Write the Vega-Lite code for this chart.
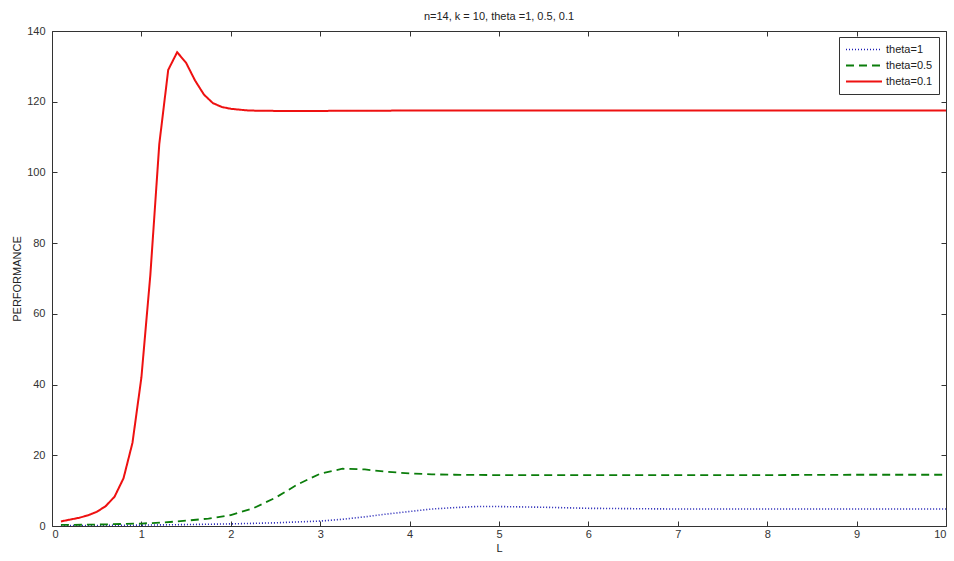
{
  "$schema": "https://vega.github.io/schema/vega-lite/v6.json",
  "autosize": "none",
  "width": 894,
  "height": 495,
  "padding": {"left": 52, "top": 31, "right": 8, "bottom": 35},
  "background": "white",
  "title": {
    "text": "n=14, k = 10, theta =1, 0.5, 0.1",
    "offset": 3,
    "fontSize": 11,
    "fontWeight": "normal",
    "font": "Liberation Sans",
    "color": "#222222"
  },
  "config": {
    "view": {"stroke": null},
    "font": "Liberation Sans",
    "axis": {
      "grid": false,
      "domainColor": "#333333",
      "domainWidth": 1,
      "tickColor": "#333333",
      "tickSize": -5,
      "labelFontSize": 11,
      "labelColor": "#333333",
      "labelFont": "Liberation Sans",
      "titleFontSize": 11,
      "titleFontWeight": "normal",
      "titleColor": "#222222",
      "titleFont": "Liberation Sans"
    },
    "legend": {
      "orient": "none",
      "legendX": 787,
      "legendY": 6,
      "strokeColor": "#333333",
      "fillColor": "white",
      "padding": 6,
      "symbolType": "stroke",
      "symbolSize": 1296,
      "symbolStrokeWidth": 2,
      "clipHeight": 13,
      "rowPadding": 3,
      "labelFontSize": 11,
      "labelColor": "#222222",
      "labelFont": "Liberation Sans",
      "labelOffset": 3
    }
  },
  "data": {
    "values": [
      {"L": 0.1, "P": 0.1, "theta": "theta=1"},
      {"L": 0.5, "P": 0.15, "theta": "theta=1"},
      {"L": 1.0, "P": 0.25, "theta": "theta=1"},
      {"L": 1.5, "P": 0.4, "theta": "theta=1"},
      {"L": 2.0, "P": 0.6, "theta": "theta=1"},
      {"L": 2.5, "P": 0.9, "theta": "theta=1"},
      {"L": 3.0, "P": 1.4, "theta": "theta=1"},
      {"L": 3.25, "P": 1.9, "theta": "theta=1"},
      {"L": 3.5, "P": 2.6, "theta": "theta=1"},
      {"L": 3.75, "P": 3.4, "theta": "theta=1"},
      {"L": 4.0, "P": 4.1, "theta": "theta=1"},
      {"L": 4.25, "P": 4.8, "theta": "theta=1"},
      {"L": 4.5, "P": 5.2, "theta": "theta=1"},
      {"L": 4.75, "P": 5.5, "theta": "theta=1"},
      {"L": 5.0, "P": 5.5, "theta": "theta=1"},
      {"L": 5.25, "P": 5.4, "theta": "theta=1"},
      {"L": 5.5, "P": 5.3, "theta": "theta=1"},
      {"L": 6.0, "P": 5.0, "theta": "theta=1"},
      {"L": 6.5, "P": 4.9, "theta": "theta=1"},
      {"L": 7.0, "P": 4.8, "theta": "theta=1"},
      {"L": 8.0, "P": 4.8, "theta": "theta=1"},
      {"L": 9.0, "P": 4.8, "theta": "theta=1"},
      {"L": 10.0, "P": 4.8, "theta": "theta=1"},

      {"L": 0.1, "P": 0.3, "theta": "theta=0.5"},
      {"L": 0.5, "P": 0.4, "theta": "theta=0.5"},
      {"L": 1.0, "P": 0.7, "theta": "theta=0.5"},
      {"L": 1.25, "P": 1.0, "theta": "theta=0.5"},
      {"L": 1.5, "P": 1.5, "theta": "theta=0.5"},
      {"L": 1.75, "P": 2.1, "theta": "theta=0.5"},
      {"L": 2.0, "P": 3.1, "theta": "theta=0.5"},
      {"L": 2.25, "P": 5.0, "theta": "theta=0.5"},
      {"L": 2.5, "P": 8.0, "theta": "theta=0.5"},
      {"L": 2.75, "P": 11.8, "theta": "theta=0.5"},
      {"L": 3.0, "P": 14.8, "theta": "theta=0.5"},
      {"L": 3.25, "P": 16.2, "theta": "theta=0.5"},
      {"L": 3.5, "P": 16.0, "theta": "theta=0.5"},
      {"L": 3.75, "P": 15.3, "theta": "theta=0.5"},
      {"L": 4.0, "P": 14.9, "theta": "theta=0.5"},
      {"L": 4.25, "P": 14.6, "theta": "theta=0.5"},
      {"L": 4.5, "P": 14.5, "theta": "theta=0.5"},
      {"L": 5.0, "P": 14.4, "theta": "theta=0.5"},
      {"L": 6.0, "P": 14.4, "theta": "theta=0.5"},
      {"L": 7.0, "P": 14.4, "theta": "theta=0.5"},
      {"L": 8.0, "P": 14.4, "theta": "theta=0.5"},
      {"L": 9.0, "P": 14.5, "theta": "theta=0.5"},
      {"L": 10.0, "P": 14.5, "theta": "theta=0.5"},

      {"L": 0.1, "P": 1.3, "theta": "theta=0.1"},
      {"L": 0.2, "P": 1.8, "theta": "theta=0.1"},
      {"L": 0.3, "P": 2.3, "theta": "theta=0.1"},
      {"L": 0.4, "P": 3.0, "theta": "theta=0.1"},
      {"L": 0.5, "P": 4.0, "theta": "theta=0.1"},
      {"L": 0.6, "P": 5.6, "theta": "theta=0.1"},
      {"L": 0.7, "P": 8.3, "theta": "theta=0.1"},
      {"L": 0.8, "P": 13.5, "theta": "theta=0.1"},
      {"L": 0.9, "P": 23.5, "theta": "theta=0.1"},
      {"L": 1.0, "P": 42, "theta": "theta=0.1"},
      {"L": 1.1, "P": 71, "theta": "theta=0.1"},
      {"L": 1.2, "P": 108, "theta": "theta=0.1"},
      {"L": 1.3, "P": 129, "theta": "theta=0.1"},
      {"L": 1.4, "P": 134, "theta": "theta=0.1"},
      {"L": 1.5, "P": 131, "theta": "theta=0.1"},
      {"L": 1.6, "P": 126, "theta": "theta=0.1"},
      {"L": 1.7, "P": 122, "theta": "theta=0.1"},
      {"L": 1.8, "P": 119.6, "theta": "theta=0.1"},
      {"L": 1.9, "P": 118.5, "theta": "theta=0.1"},
      {"L": 2.0, "P": 118, "theta": "theta=0.1"},
      {"L": 2.2, "P": 117.5, "theta": "theta=0.1"},
      {"L": 2.5, "P": 117.4, "theta": "theta=0.1"},
      {"L": 3.0, "P": 117.4, "theta": "theta=0.1"},
      {"L": 4.0, "P": 117.5, "theta": "theta=0.1"},
      {"L": 5.0, "P": 117.5, "theta": "theta=0.1"},
      {"L": 6.0, "P": 117.5, "theta": "theta=0.1"},
      {"L": 7.0, "P": 117.5, "theta": "theta=0.1"},
      {"L": 8.0, "P": 117.5, "theta": "theta=0.1"},
      {"L": 9.0, "P": 117.5, "theta": "theta=0.1"},
      {"L": 10.0, "P": 117.5, "theta": "theta=0.1"}
    ]
  },
  "layer": [
    {
      "mark": {"type": "line", "clip": true},
      "encoding": {
        "x": {
          "field": "L",
          "type": "quantitative",
          "scale": {"domain": [0, 10], "nice": false, "zero": false},
          "axis": {"orient": "bottom", "values": [0, 1, 2, 3, 4, 5, 6, 7, 8, 9, 10], "title": "L", "titlePadding": 3, "labelPadding": 7}
        },
        "y": {
          "field": "P",
          "type": "quantitative",
          "scale": {"domain": [0, 140], "nice": false},
          "axis": {"orient": "left", "values": [0, 20, 40, 60, 80, 100, 120, 140], "title": "PERFORMANCE", "titlePadding": 4, "labelPadding": 12}
        },
        "color": {
          "field": "theta",
          "type": "nominal",
          "scale": {"domain": ["theta=1", "theta=0.5", "theta=0.1"], "range": ["#1c1cb4", "#0b7d0b", "#ee1111"]},
          "legend": {"title": null}
        },
        "strokeDash": {
          "field": "theta",
          "type": "nominal",
          "scale": {"domain": ["theta=1", "theta=0.5", "theta=0.1"], "range": [[1, 2], [8, 5], [1, 0]]},
          "legend": {"title": null}
        },
        "strokeWidth": {
          "field": "theta",
          "type": "nominal",
          "scale": {"domain": ["theta=1", "theta=0.5", "theta=0.1"], "range": [1.6, 2, 2]},
          "legend": null
        }
      }
    },
    {
      "mark": {"type": "line", "opacity": 0},
      "encoding": {
        "x": {
          "field": "L",
          "type": "quantitative",
          "scale": {"domain": [0, 10], "nice": false, "zero": false},
          "axis": {"orient": "top", "values": [0, 1, 2, 3, 4, 5, 6, 7, 8, 9, 10], "labels": false, "title": null}
        },
        "y": {
          "field": "P",
          "type": "quantitative",
          "scale": {"domain": [0, 140], "nice": false},
          "axis": {"orient": "right", "values": [0, 20, 40, 60, 80, 100, 120, 140], "labels": false, "title": null}
        },
        "detail": {"field": "theta", "type": "nominal"}
      }
    }
  ],
  "resolve": {"axis": {"x": "independent", "y": "independent"}}
}
